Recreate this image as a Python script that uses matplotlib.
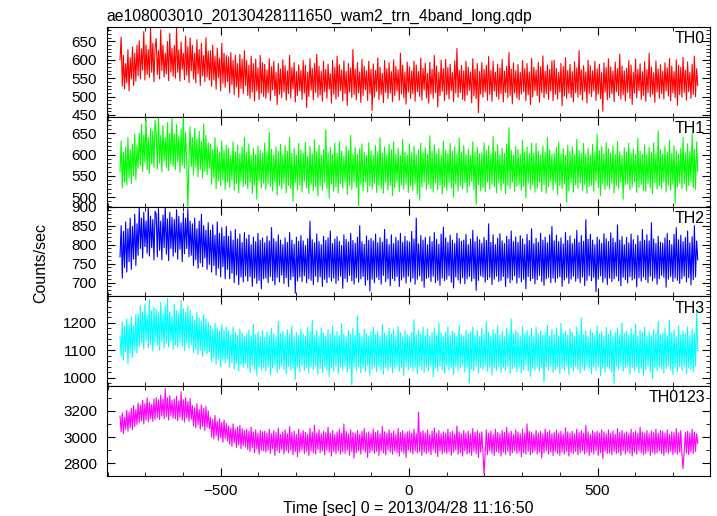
import numpy as np
import matplotlib
matplotlib.use("Agg")
import matplotlib.pyplot as plt
from matplotlib.ticker import MultipleLocator

plt.rcParams["font.family"] = ["Liberation Sans", "DejaVu Sans"]

TITLE = "ae108003010_20130428111650_wam2_trn_4band_long.qdp"
XLABEL = "Time [sec] 0 = 2013/04/28 11:16:50"

# light curve bins (sec from 2013/04/28 11:16:50)
t_start = -767
t_step = 3

# Counts/sec per band
th0 = [
    600, 662, 528, 612, 521, 590, 537, 628, 515, 606, 548, 635, 530, 618, 542, 640,
    556, 652, 548, 630, 572, 677, 545, 641, 560, 628, 552, 688, 566, 645, 540, 633,
    658, 560, 625, 548, 682, 571, 640, 553, 618, 562, 650, 543, 672, 567, 631, 555,
    639, 550, 690, 566, 627, 542, 649, 574, 618, 546, 665, 558, 636, 538, 660, 570,
    640, 548, 618, 537, 655, 562, 628, 530, 645, 556, 612, 541, 660, 553, 624, 545,
    625, 528, 640, 545, 610, 520, 632, 551, 604, 515, 645, 536, 618, 525, 612, 540,
    608, 510, 620, 532, 598, 505, 612, 526, 590, 498, 615, 522, 602, 508, 625, 530,
    598, 503, 585, 495, 610, 512, 590, 488, 602, 515, 578, 492, 612, 509, 592, 500,
    588, 495, 572, 510, 603, 489, 581, 518, 596, 502, 566, 478, 590, 506, 575, 497,
    600, 512, 584, 490, 570, 508, 612, 496, 579, 521, 593, 485, 568, 503, 586, 515,
    571, 492, 598, 509, 585, 470, 566, 500, 603, 517, 577, 491, 590, 511, 615, 498,
    582, 504, 569, 487, 596, 513, 574, 495, 588, 520, 562, 482, 599, 506, 580, 493,
    610, 500, 586, 516, 572, 488, 597, 508, 568, 476, 590, 512, 578, 497, 628, 505,
    575, 491, 593, 510, 567, 484, 601, 503, 583, 519, 570, 489, 596, 508, 574, 462,
    589, 498, 571, 514, 605, 492, 580, 506, 563, 483, 598, 511, 576, 495, 592, 509,
    568, 486, 600, 503, 582, 515, 573, 490, 618, 507, 585, 497, 566, 479, 594, 512,
    581, 494, 570, 508, 597, 487, 586, 513, 568, 500, 605, 490, 577, 518, 591, 496,
    563, 482, 594, 507, 574, 495, 612, 510, 583, 472, 566, 502, 599, 514, 576, 489,
    601, 505, 579, 493, 588, 516, 565, 486, 597, 509, 631, 498, 572, 511, 585, 492,
    570, 488, 596, 504, 580, 517, 567, 483, 603, 501, 575, 494, 590, 456, 568, 507,
    593, 498, 574, 512, 585, 490, 609, 506, 571, 487, 596, 515, 566, 500, 588, 493,
    578, 508, 601, 485, 569, 511, 583, 497, 620, 503, 575, 480, 592, 509, 570, 496,
    587, 491, 566, 507, 598, 513, 576, 489, 590, 505, 567, 478, 604, 499, 580, 516,
    572, 502, 593, 484, 581, 510, 611, 496, 569, 508, 586, 492, 574, 515, 597, 488,
    599, 506, 577, 493, 566, 512, 590, 475, 582, 501, 606, 495, 571, 509, 588, 497,
    568, 485, 595, 510, 578, 498, 625, 505, 573, 490, 584, 514, 567, 482, 599, 508,
    584, 500, 570, 515, 596, 489, 575, 507, 588, 494, 565, 460, 592, 512, 579, 491,
    603, 497, 581, 508, 569, 486, 594, 513, 576, 502, 615, 493, 583, 505, 570, 488,
    577, 511, 598, 495, 586, 478, 566, 509, 602, 496, 574, 516, 589, 492, 568, 503,
    595, 487, 573, 510, 618, 499, 580, 506, 565, 484, 597, 512, 575, 495, 587, 508,
    569, 493, 592, 515, 578, 501, 604, 488, 583, 510, 568, 497, 600, 476, 585, 505,
    580, 498, 607, 511, 572, 490, 594, 513, 566, 495, 588, 506, 610, 499, 576, 530,
]
th1 = [
    560, 632, 522, 605, 535, 618, 528, 640, 546, 612, 532, 625, 550, 648, 541, 620,
    568, 650, 575, 672, 560, 645, 582, 688, 565, 640, 556, 662, 578, 655, 570, 680,
    652, 566, 690, 580, 645, 560, 668, 585, 640, 570, 675, 562, 650, 578, 686, 572,
    648, 565, 670, 583, 642, 558, 660, 575, 688, 568, 652, 580, 472, 590, 665, 572,
    640, 552, 662, 570, 636, 548, 655, 565, 630, 545, 672, 560, 645, 553, 628, 568,
    625, 530, 612, 545, 640, 520, 618, 538, 605, 527, 632, 541, 610, 518, 622, 535,
    615, 523, 598, 540, 630, 516, 607, 532, 622, 510, 602, 538, 618, 525, 640, 530,
    605, 520, 625, 535, 598, 508, 615, 528, 600, 495, 620, 537, 610, 522, 603, 533,
    627, 518, 606, 531, 652, 525, 612, 514, 598, 536, 618, 505, 608, 527, 624, 519,
    600, 532, 621, 510, 608, 528, 640, 520, 603, 490, 615, 534, 598, 517, 626, 529,
    611, 512, 604, 537, 628, 522, 596, 508, 619, 530, 602, 515, 635, 525, 607, 503,
    622, 527, 599, 516, 612, 535, 658, 520, 605, 498, 617, 531, 600, 514, 627, 524,
    603, 510, 630, 532, 608, 521, 596, 537, 620, 506, 610, 528, 645, 518, 601, 535,
    617, 523, 600, 480, 614, 530, 625, 515, 605, 536, 598, 512, 628, 526, 609, 519,
    598, 533, 621, 511, 607, 527, 640, 520, 603, 509, 618, 535, 600, 516, 624, 528,
    612, 504, 630, 522, 601, 537, 615, 513, 597, 529, 636, 519, 606, 531, 599, 511,
    625, 526, 604, 515, 619, 532, 600, 508, 611, 493, 627, 524, 605, 536, 616, 518,
    600, 530, 644, 520, 608, 512, 623, 534, 602, 517, 614, 528, 598, 507, 632, 523,
    610, 516, 603, 535, 626, 521, 607, 500, 618, 531, 600, 514, 639, 527, 605, 520,
    621, 534, 600, 511, 613, 526, 598, 537, 630, 518, 606, 483, 617, 529, 602, 515,
    604, 522, 628, 513, 609, 536, 620, 519, 601, 530, 642, 524, 607, 510, 623, 533,
    599, 517, 615, 532, 603, 508, 625, 527, 663, 520, 610, 535, 598, 514, 619, 526,
    612, 530, 600, 516, 634, 525, 606, 498, 618, 533, 602, 519, 627, 528, 604, 512,
    626, 521, 608, 535, 599, 513, 620, 529, 605, 510, 640, 524, 611, 536, 600, 517,
    603, 533, 617, 506, 629, 527, 601, 520, 614, 531, 598, 488, 622, 515, 608, 534,
    618, 512, 600, 529, 636, 521, 609, 534, 603, 516, 626, 530, 601, 509, 615, 525,
    599, 528, 624, 514, 606, 537, 648, 522, 610, 503, 619, 532, 602, 518, 628, 527,
    614, 519, 603, 533, 620, 510, 600, 526, 631, 520, 607, 535, 598, 495, 616, 529,
    606, 531, 627, 517, 604, 524, 612, 536, 600, 511, 638, 523, 608, 530, 601, 516,
    623, 514, 600, 532, 617, 521, 605, 508, 628, 534, 602, 519, 655, 527, 611, 520,
    601, 535, 619, 512, 606, 528, 633, 516, 603, 530, 621, 485, 609, 524, 600, 533,
    615, 520, 640, 531, 604, 515, 625, 527, 607, 536, 650, 522, 612, 518, 630, 560,
]
th2 = [
    768, 850, 712, 835, 740, 860, 728, 842, 755, 870, 735, 848, 762, 880, 745, 855,
    772, 898, 790, 870, 765, 885, 795, 862, 778, 900, 770, 875, 792, 866, 760, 888,
    880, 768, 895, 785, 862, 760, 878, 792, 900, 775, 868, 758, 885, 790, 872, 770,
    866, 780, 892, 762, 875, 788, 858, 755, 884, 776, 870, 790, 895, 768, 862, 772,
    855, 745, 870, 760, 842, 738, 862, 752, 880, 742, 850, 765, 838, 735, 858, 748,
    838, 728, 852, 745, 825, 720, 860, 738, 830, 715, 845, 742, 822, 710, 848, 735,
    822, 710, 835, 725, 812, 700, 840, 720, 815, 695, 828, 715, 806, 702, 832, 718,
    815, 704, 826, 716, 800, 690, 820, 712, 808, 698, 830, 706, 812, 684, 818, 710,
    805, 712, 822, 700, 810, 716, 845, 705, 816, 694, 808, 714, 826, 702, 812, 720,
    800, 698, 818, 713, 806, 690, 832, 708, 812, 716, 801, 672, 820, 704, 809, 715,
    824, 703, 810, 718, 798, 700, 816, 710, 862, 706, 813, 695, 805, 717, 828, 702,
    808, 715, 800, 690, 822, 709, 812, 700, 818, 714, 836, 704, 803, 712, 815, 698,
    821, 706, 809, 717, 798, 685, 826, 711, 814, 702, 807, 719, 830, 705, 811, 696,
    804, 713, 820, 701, 850, 710, 808, 716, 801, 693, 823, 707, 812, 678, 817, 709,
    810, 700, 828, 714, 805, 708, 818, 696, 807, 719, 840, 703, 815, 710, 800, 692,
    826, 711, 803, 705, 819, 716, 811, 690, 830, 707, 806, 714, 822, 699, 810, 717,
    807, 702, 835, 712, 815, 696, 870, 709, 802, 718, 824, 704, 812, 688, 819, 711,
    800, 714, 821, 703, 808, 717, 832, 700, 814, 706, 801, 693, 828, 712, 846, 705,
    818, 709, 806, 718, 825, 701, 812, 686, 803, 715, 830, 707, 816, 698, 809, 713,
    812, 697, 827, 710, 800, 716, 815, 704, 838, 711, 808, 680, 821, 706, 813, 718,
    804, 715, 819, 701, 811, 708, 855, 714, 806, 695, 826, 709, 800, 717, 817, 703,
    829, 706, 810, 716, 803, 690, 822, 712, 814, 700, 836, 707, 808, 718, 820, 699,
    806, 713, 824, 702, 815, 709, 801, 684, 827, 716, 811, 705, 842, 711, 803, 697,
    817, 708, 806, 719, 830, 703, 812, 693, 820, 710, 805, 714, 826, 700, 848, 712,
    810, 701, 825, 712, 808, 716, 818, 690, 802, 707, 832, 713, 811, 698, 823, 709,
    803, 717, 815, 704, 838, 711, 806, 700, 824, 715, 809, 692, 866, 706, 814, 718,
    827, 705, 812, 714, 800, 676, 820, 709, 813, 718, 804, 701, 829, 712, 816, 695,
    808, 712, 831, 703, 817, 710, 806, 717, 852, 705, 812, 692, 821, 714, 800, 708,
    819, 699, 805, 716, 828, 707, 813, 711, 801, 689, 824, 713, 809, 704, 840, 715,
    812, 708, 826, 700, 810, 717, 858, 705, 815, 712, 803, 696, 822, 710, 807, 719,
    804, 714, 818, 688, 830, 709, 811, 716, 800, 703, 827, 712, 845, 706, 813, 698,
    825, 710, 808, 717, 819, 702, 836, 713, 805, 694, 821, 708, 850, 715, 810, 760,
]
th3 = [
    1150, 1080, 1205, 1065, 1188, 1095, 1215, 1052, 1196, 1088, 1222, 1075, 1190, 1100, 1230, 1090,
    1232, 1115, 1262, 1128, 1240, 1105, 1270, 1135, 1228, 1110, 1285, 1122, 1245, 1098, 1258, 1130,
    1250, 1118, 1238, 1102, 1275, 1132, 1232, 1108, 1262, 1125, 1290, 1112, 1240, 1135, 1226, 1104,
    1268, 1120, 1244, 1110, 1236, 1130, 1280, 1115, 1252, 1100, 1238, 1126, 1260, 1108, 1246, 1122,
    1225, 1092, 1212, 1105, 1240, 1085, 1218, 1100, 1205, 1078, 1230, 1098, 1215, 1088, 1202, 1095,
    1190, 1060, 1178, 1072, 1200, 1050, 1182, 1068, 1170, 1040, 1195, 1065, 1175, 1055, 1186, 1070,
    1172, 1040, 1160, 1055, 1185, 1032, 1165, 1050, 1155, 1025, 1178, 1048, 1162, 1038, 1150, 1052,
    1160, 1035, 1175, 1020, 1152, 1045, 1195, 1030, 1158, 1010, 1168, 1042, 1150, 1028, 1172, 1038,
    1148, 1025, 1166, 1040, 1155, 1012, 1180, 1035, 1160, 1046, 1150, 1020, 1206, 1033, 1162, 1044,
    1170, 1030, 1152, 1015, 1175, 1042, 1158, 1028, 1190, 1036, 1150, 995, 1165, 1040, 1155, 1022,
    1178, 1045, 1160, 1026, 1152, 1038, 1185, 1018, 1168, 1040, 1210, 1030, 1156, 1045, 1172, 1012,
    1150, 1034, 1182, 1020, 1163, 1042, 1152, 1028, 1176, 1005, 1160, 1037, 1188, 1025, 1155, 1043,
    1168, 1016, 1154, 1040, 1198, 1030, 1161, 1044, 1150, 1022, 1172, 1035, 1158, 975, 1180, 1039,
    1155, 1028, 1226, 1041, 1163, 1018, 1150, 1036, 1178, 1025, 1160, 1045, 1152, 1010, 1170, 1032,
    1184, 1040, 1158, 1022, 1170, 1043, 1152, 1030, 1195, 1014, 1162, 1038, 1155, 1027, 1180, 1041,
    1160, 1018, 1175, 1035, 1153, 1044, 1188, 1024, 1165, 1038, 1150, 1008, 1172, 1042, 1158, 1029,
    1150, 1040, 1166, 1026, 1212, 1037, 1157, 1015, 1174, 1043, 1160, 1030, 1185, 1021, 1154, 1039,
    1178, 1027, 1152, 1044, 1165, 1004, 1180, 1035, 1156, 1025, 1200, 1042, 1163, 1030, 1150, 1017,
    1167, 1043, 1186, 1028, 1155, 1038, 1170, 1012, 1162, 1040, 1150, 1026, 1192, 1036, 1158, 1045,
    1152, 1022, 1174, 1040, 1160, 982, 1168, 1033, 1185, 1026, 1155, 1044, 1172, 1019, 1150, 1037,
    1180, 1031, 1158, 1045, 1205, 1024, 1166, 1039, 1152, 1010, 1176, 1036, 1160, 1028, 1190, 1042,
    1156, 1020, 1170, 1038, 1150, 1027, 1182, 1044, 1163, 1015, 1215, 1034, 1158, 1040, 1175, 1022,
    1165, 1039, 1152, 1018, 1188, 1030, 1160, 1045, 1172, 1025, 1155, 1006, 1180, 1037, 1150, 1028,
    1184, 1042, 1161, 1024, 1170, 1036, 1156, 985, 1166, 1040, 1192, 1029, 1153, 1043, 1176, 1020,
    1158, 1030, 1180, 1041, 1152, 1016, 1198, 1035, 1162, 1027, 1170, 1044, 1155, 1012, 1178, 1038,
    1165, 1025, 1152, 1042, 1186, 1031, 1160, 1019, 1218, 1040, 1157, 1028, 1172, 1045, 1150, 1034,
    1176, 1016, 1163, 1039, 1155, 1027, 1190, 1043, 1160, 1008, 1170, 1035, 1152, 1022, 1184, 1041,
    1158, 1033, 1175, 1020, 1150, 978, 1166, 1040, 1182, 1029, 1156, 1044, 1200, 1025, 1162, 1036,
    1170, 1042, 1155, 1014, 1180, 1037, 1160, 1026, 1196, 1041, 1152, 1018, 1174, 1034, 1165, 1010,
    1186, 1030, 1152, 1043, 1168, 1021, 1155, 998, 1176, 1038, 1160, 1027, 1205, 1040, 1157, 1032,
    1162, 1018, 1180, 1035, 1153, 1044, 1210, 1029, 1165, 1012, 1175, 1039, 1150, 1024, 1188, 1041,
    1157, 1027, 1172, 1040, 1160, 1015, 1185, 1036, 1154, 1030, 1178, 1022, 1162, 1043, 1238, 1100,
]
th0123 = [
    3160, 3040, 3185, 3025, 3150, 3060, 3205, 3045, 3190, 3070, 3220, 3055, 3240, 3080, 3210, 3095,
    3260, 3110, 3245, 3125, 3280, 3100, 3255, 3130, 3300, 3115, 3265, 3140, 3250, 3120, 3290, 3135,
    3300, 3150, 3285, 3135, 3320, 3160, 3290, 3140, 3370, 3155, 3300, 3130, 3315, 3165, 3280, 3145,
    3290, 3140, 3310, 3125, 3275, 3150, 3345, 3130, 3285, 3115, 3300, 3145, 3270, 3120, 3295, 3135,
    3240, 3085, 3225, 3070, 3255, 3095, 3210, 3060, 3245, 3080, 3220, 3050, 3235, 3075, 3200, 3065,
    3150, 3000, 3135, 2985, 3165, 3010, 3120, 2975, 3140, 2995, 3110, 2960, 3130, 2990, 3105, 2970,
    3085, 2945, 3070, 2930, 3100, 2955, 3060, 2920, 3075, 2940, 3090, 2910, 3065, 2935, 3050, 2925,
    3060, 2905, 3045, 2890, 3075, 2920, 3040, 2880, 3055, 2910, 3030, 2870, 3050, 2900, 3040, 2895,
    3045, 2885, 3030, 2900, 3060, 2875, 3025, 2910, 3050, 2860, 3035, 2895, 3070, 2880, 3020, 2905,
    3040, 2870, 3055, 2895, 3025, 2880, 3080, 2900, 3035, 2865, 3045, 2890, 3020, 2850, 3060, 2885,
    3030, 2900, 3050, 2875, 3035, 2890, 3020, 2860, 3065, 2895, 3040, 2880, 3090, 2870, 3030, 2905,
    3055, 2880, 3025, 2895, 3045, 2865, 3035, 2900, 3075, 2885, 3030, 2855, 3050, 2890, 3020, 2875,
    3040, 2895, 3060, 2870, 3030, 2885, 3100, 2875, 3045, 2900, 3025, 2860, 3055, 2890, 3035, 2840,
    3030, 2880, 3050, 2895, 3020, 2870, 3045, 2900, 3065, 2885, 3030, 2845, 3040, 2880, 3025, 2895,
    3060, 2875, 3035, 2890, 3050, 2860, 3025, 2895, 3080, 2880, 3040, 2865, 3030, 2900, 3055, 2885,
    3030, 2870, 3045, 2895, 3020, 2880, 3065, 2855, 3035, 2890, 3050, 2875, 3025, 2845, 3040, 2900,
    3045, 2885, 3030, 2870, 3060, 2895, 3025, 2880, 3190, 2890, 3040, 2860, 3050, 2885, 3030, 2875,
    3055, 2890, 3020, 2865, 3045, 2900, 3070, 2880, 3030, 2850, 3050, 2895, 3025, 2870, 3040, 2885,
    3030, 2875, 3060, 2890, 3035, 2860, 3045, 2885, 3020, 2900, 3085, 2870, 3040, 2880, 3025, 2855,
    3050, 2895, 3030, 2870, 3045, 2880, 3025, 2860, 3065, 2890, 3035, 2875, 3050, 2845, 3030, 2885,
    3040, 2870, 2715, 2885, 3055, 2865, 3030, 2895, 3045, 2875, 3020, 2860, 3060, 2890, 3035, 2880,
    3025, 2855, 3050, 2885, 3035, 2870, 3075, 2890, 3030, 2860, 3045, 2880, 3020, 2895, 3055, 2875,
    3040, 2885, 3025, 2850, 3060, 2880, 3030, 2870, 3100, 2890, 3045, 2865, 3035, 2880, 3020, 2895,
    3050, 2870, 3030, 2885, 3045, 2840, 3025, 2880, 3060, 2895, 3035, 2870, 3050, 2885, 3025, 2860,
    3035, 2890, 3055, 2875, 3030, 2860, 3045, 2885, 3020, 2870, 3070, 2890, 3040, 2855, 3030, 2880,
    3045, 2875, 3025, 2890, 3060, 2865, 3035, 2880, 3050, 2895, 3030, 2870, 3090, 2885, 3040, 2860,
    3020, 2885, 3050, 2870, 3035, 2895, 3045, 2860, 3030, 2880, 3055, 2835, 3040, 2890, 3025, 2875,
    3055, 2880, 3030, 2865, 3045, 2890, 3020, 2875, 3065, 2885, 3035, 2860, 3050, 2895, 3030, 2870,
    3040, 2890, 3025, 2875, 3060, 2855, 3035, 2885, 3045, 2870, 3030, 2895, 3075, 2880, 3040, 2865,
    3030, 2875, 3050, 2890, 3025, 2860, 3045, 2885, 3035, 2870, 3060, 2880, 3030, 2895, 3050, 2875,
    3045, 2860, 3030, 2885, 3055, 2875, 3020, 2890, 3040, 2865, 3035, 2880, 3065, 2870, 3030, 2885,
    3050, 2870, 2760, 2890, 3035, 2880, 3045, 2865, 3030, 2885, 3060, 2875, 3040, 2890, 3025, 2950,
]

bands = ["TH0", "TH1", "TH2", "TH3", "TH0123"]
series = [th0, th1, th2, th3, th0123]
colors = ["#ff0000", "#00ff00", "#0000ff", "#00ffff", "#ff00ff"]
ylims = [(445, 690), (478, 689), (664, 900.5), (970, 1297), (2703, 3388)]
ymajor = [50, 50, 50, 100, 200]
yminor = [10, 10, 10, 20, 100]

time = t_start + t_step * np.arange(len(th0))

fig, axes = plt.subplots(5, 1, sharex=True, figsize=(7.17, 5.16), dpi=100)
fig.subplots_adjust(left=0.149, right=0.990, top=0.948, bottom=0.0775, hspace=0)

for ax, name, y, c, lim, mj, mn in zip(axes, bands, series, colors, ylims, ymajor, yminor):
    ax.plot(time, y, color=c, lw=0.8)
    ax.set_ylim(lim)
    ax.yaxis.set_major_locator(MultipleLocator(mj))
    ax.yaxis.set_minor_locator(MultipleLocator(mn))
    ax.xaxis.set_major_locator(MultipleLocator(500))
    ax.xaxis.set_minor_locator(MultipleLocator(100))
    ax.tick_params(which="both", direction="in", top=True, right=True, labelsize=11)
    ax.tick_params(axis="y", which="major", length=6, pad=7)
    ax.tick_params(axis="x", which="major", length=6, pad=6)
    ax.tick_params(which="minor", length=3)
    ax.text(0.992, 0.87, name, transform=ax.transAxes, ha="right", va="center", fontsize=11.5)

axes[-1].set_xlim(-802, 798)
axes[0].set_title(TITLE, loc="left", fontsize=11.3, pad=4)
fig.text(0.057, 0.49, "Counts/sec", rotation=90, ha="center", va="center", fontsize=11.5)
axes[-1].set_xlabel(XLABEL, fontsize=11.5, labelpad=2)

fig.savefig("out.png", dpi=100)
